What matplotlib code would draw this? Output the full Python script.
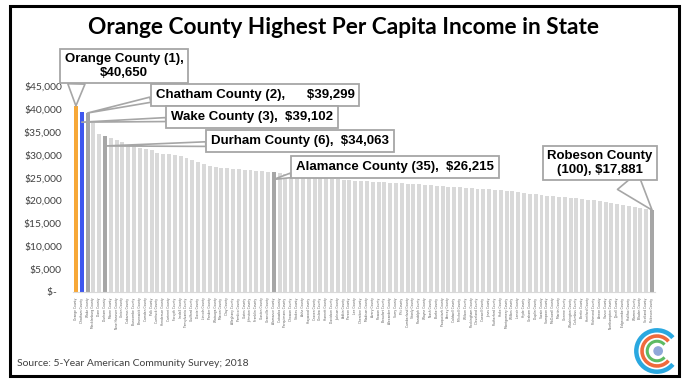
import numpy as np
import matplotlib
matplotlib.use('Agg')
import matplotlib.pyplot as plt
from matplotlib.patches import Rectangle, Arc, Circle

# counties ranked by per capita income (ACS 5-year, 2018)
counties = ['Orange', 'Chatham', 'Wake', 'Mecklenburg', 'Dare', 'Durham', 'Moore', 'New Hanover', 'Union', 'Cabarrus',
            'Buncombe', 'Brunswick', 'Camden', 'Polk', 'Currituck', 'Henderson', 'Carteret', 'Forsyth', 'Iredell', 'Transylvania',
            'Guilford', 'Davie', 'Lincoln', 'Pender', 'Watauga', 'Macon', 'Clay', 'Alleghany', 'Pamlico', 'Gates',
            'Johnston', 'Franklin', 'Gaston', 'Granville', 'Alamance', 'Catawba', 'Perquimans', 'Chowan', 'Stokes', 'Ashe',
            'Haywood', 'Craven', 'Onslow', 'Harnett', 'Davidson', 'Jackson', 'Yadkin', 'Person', 'Lee', 'Cherokee',
            'Madison', 'Avery', 'Rowan', 'Beaufort', 'Alexander', 'Surry', 'Pitt', 'Cumberland', 'Stanly', 'Randolph',
            'Wayne', 'Nash', 'Burke', 'Pasquotank', 'Yancey', 'Caldwell', 'Mitchell', 'Wilson', 'Rockingham', 'Cleveland',
            'Caswell', 'Jones', 'Rutherford', 'Hoke', 'Montgomery', 'Wilkes', 'Lenoir', 'Hyde', 'Graham', 'Duplin',
            'Swain', 'Sampson', 'McDowell', 'Martin', 'Greene', 'Washington', 'Columbus', 'Bertie', 'Hertford', 'Richmond',
            'Anson', 'Vance', 'Northampton', 'Tyrrell', 'Edgecombe', 'Halifax', 'Warren', 'Bladen', 'Scotland', 'Robeson']

income = [40650, 39299, 39102, 36900, 34500, 34063, 33600, 33300, 32700, 32100,
          31800, 31400, 31200, 31000, 30300, 30200, 30100, 29900, 29700, 29300,
          28800, 28400, 28000, 27500, 27300, 27100, 27000, 26900, 26800, 26700,
          26600, 26500, 26400, 26300, 26215, 25900, 25700, 25500, 25300, 25200,
          25100, 25000, 24900, 24800, 24700, 24600, 24500, 24400, 24300, 24250,
          24200, 24100, 24000, 23950, 23900, 23850, 23800, 23700, 23600, 23500,
          23400, 23300, 23200, 23100, 23000, 22950, 22900, 22800, 22700, 22600,
          22500, 22400, 22300, 22200, 22100, 22000, 21900, 21700, 21500, 21300,
          21100, 21000, 20900, 20800, 20700, 20600, 20500, 20400, 20200, 20000,
          19800, 19600, 19400, 19200, 19000, 18800, 18600, 18300, 18100, 17881]

highlight = {0: '#F7A838', 1: '#3F57EE', 2: '#A6A6A6', 5: '#A6A6A6', 34: '#A6A6A6', 99: '#A6A6A6'}

fig = plt.figure(figsize=(6.86, 3.8), dpi=100)
ax = fig.add_axes([73/686, 88/380, 582/686, 206/380])

colors = [highlight.get(i, '#D9D9D9') for i in range(len(income))]
x = np.arange(len(income))
ax.bar(x, income, width=0.68, color=colors)

ax.set_xlim(-0.5, len(income) - 0.5)
ax.set_ylim(0, 45000)
ax.set_yticks(np.arange(0, 45001, 5000))
ylabels = ['$-  '] + ['${:,}'.format(v) for v in range(5000, 45001, 5000)]
ax.set_yticklabels(ylabels, fontsize=7.4, color='#404040', family='Lato')
ax.set_xticks(x)
ax.set_xticklabels([c + ' County' for c in counties], rotation=90, fontsize=2.2, color='#595959')
ax.tick_params(axis='both', length=0)
ax.tick_params(axis='y', pad=8)
ax.tick_params(axis='x', pad=4)
for s in ['top', 'right', 'left']:
    ax.spines[s].set_visible(False)
ax.spines['bottom'].set_color('#D9D9D9')

# callout boxes
box = dict(boxstyle='square,pad=0.35', fc='white', ec='#A6A6A6', lw=1.3)
def callout(txt, idx, val, pos, relpos, tw, fs=9.5):
    ax.annotate(txt, xy=(idx, val), xytext=(pos[0], 380 - pos[1]), textcoords='figure pixels',
                ha='center', va='center', fontsize=fs, fontweight='bold', family='Liberation Sans',
                color='black', bbox=box, linespacing=1.15,
                arrowprops=dict(arrowstyle='wedge,tail_width=%s,shrink_factor=0.5' % tw,
                                fc='white', ec='#A6A6A6', lw=1.2, relpos=relpos,
                                shrinkA=0, shrinkB=0))

callout('Orange County (1),\n$40,650', 0, income[0], (124, 66), (0.1, 0), 1.3)
callout('Chatham County (2),      $39,299', 2, income[2], (255, 95), (0, 0.2), 0.4)
callout('Wake County (3),  $39,102', 1, 37100, (252, 117), (0, 0.3), 0.3)
callout('Durham County (6),  $34,063', 5, 31900, (300, 141), (0, 0.25), 0.35)
callout('Alamance County (35),  $26,215', 34, 24600, (395, 167), (0.05, 0.1), 0.35)
callout('Robeson County\n(100), $17,881', 99, income[99], (600, 163), (0.72, 0), 2.0)

fig.text(0.5, 1 - 27/380, 'Orange County Highest Per Capita Income in State',
         ha='center', va='center', fontsize=16.3, fontweight='bold', family='Lato')
fig.text(17/686, 1 - 364/380, 'Source: 5-Year American Community Survey; 2018',
         ha='left', va='center', fontsize=7.5, color='#404040', family='Lato')

fig.patches.append(Rectangle((10/686, 4/380), 669/686, 370/380, transform=fig.transFigure,
                             fill=False, ec='black', lw=2.2))

# logo
lax = fig.add_axes([634/686, 6/380, 46/686, 46/380])
lax.set_xlim(-1, 1)
lax.set_ylim(-1, 1)
lax.set_aspect('equal')
lax.axis('off')
lax.add_patch(Arc((0, 0), 1.8, 1.8, theta1=40, theta2=320, color='#2AA8E0', lw=3.2))
lax.add_patch(Arc((0, 0), 1.3, 1.3, theta1=40, theta2=320, color='#F06A3C', lw=2.6))
lax.add_patch(Arc((0, 0), 0.85, 0.85, theta1=40, theta2=320, color='#5DBB63', lw=2.2))
lax.add_patch(Circle((0.05, 0), 0.18, color='#8FA8D8'))

fig.savefig('out.png', dpi=100)
